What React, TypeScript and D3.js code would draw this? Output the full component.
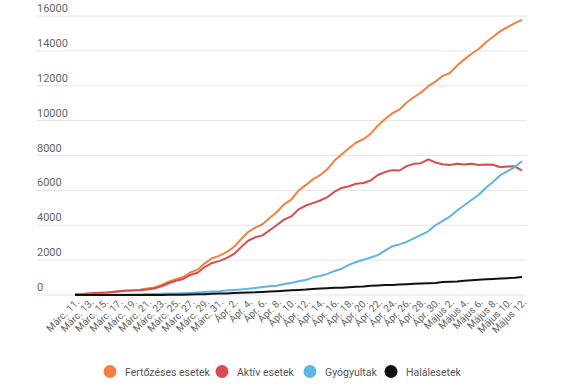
import React from 'react';
import * as d3 from 'd3';

// day labels, Márc. 11. – Május 12.
const months = [
  { name: 'Márc.', from: 11, to: 31 },
  { name: 'Ápr.', from: 1, to: 30 },
  { name: 'Május', from: 1, to: 12 },
];
const days: string[] = [];
months.forEach((m) => {
  for (let d = m.from; d <= m.to; d++) days.push(`${m.name} ${d}.`);
});

const cases = [
  49, 59, 89, 123, 131, 168, 217, 260, 277, 308,
  367, 433, 576, 762, 906, 1029, 1292, 1452, 1815, 2109,
  2245, 2460, 2738, 3183, 3613, 3864, 4057, 4417, 4761, 5202,
  5467, 5990, 6300, 6633, 6879, 7216, 7707, 8067, 8418, 8746,
  8936, 9242, 9710, 10096, 10417, 10635, 11036, 11339, 11616, 11978,
  12240, 12567, 12732, 13163, 13512, 13837, 14107, 14499, 14811, 15131,
  15362, 15588, 15778,
];
const active = [
  43, 53, 80, 114, 122, 159, 201, 241, 252, 277,
  315, 367, 500, 675, 816, 918, 1151, 1276, 1603, 1838,
  1943, 2116, 2340, 2732, 3111, 3307, 3421, 3715, 4013, 4325,
  4505, 4912, 5130, 5270, 5418, 5612, 5922, 6138, 6237, 6376,
  6425, 6565, 6880, 7050, 7160, 7140, 7390, 7520, 7560, 7780,
  7600, 7500, 7450, 7530, 7480, 7530, 7460, 7480, 7470, 7330,
  7370, 7380, 7130,
];
const recovered = [
  6, 6, 9, 9, 9, 9, 16, 19, 25, 31,
  52, 64, 73, 79, 79, 94, 115, 139, 169, 206,
  220, 252, 283, 318, 356, 406, 460, 505, 528, 629,
  692, 787, 855, 1012, 1089, 1212, 1374, 1508, 1730, 1892,
  2017, 2153, 2286, 2550, 2800, 2900, 3050, 3250, 3450, 3650,
  4000, 4250, 4500, 4850, 5150, 5450, 5750, 6150, 6500, 6880,
  7100, 7330, 7680,
];
const deaths = [
  0, 0, 0, 0, 0, 0, 0, 0, 0, 0,
  0, 2, 3, 8, 11, 17, 26, 37, 43, 65,
  82, 92, 115, 133, 146, 151, 176, 197, 220, 248,
  270, 291, 315, 351, 372, 392, 411, 421, 451, 478,
  494, 524, 545, 567, 575, 601, 619, 641, 663, 675,
  693, 744, 760, 778, 812, 846, 872, 900, 922, 944,
  967, 990, 1030,
];

const yTicks = [0, 2000, 4000, 6000, 8000, 10000, 12000, 14000, 16000];

const series = [
  { name: 'Fertőzéses esetek', values: cases, color: '#f4803f' },
  { name: 'Aktív esetek', values: active, color: '#d94b52' },
  { name: 'Gyógyultak', values: recovered, color: '#5cb5e2' },
  { name: 'Halálesetek', values: deaths, color: '#111111' },
];

const W = 575;
const H = 387;
const font = 'Roboto, "Noto Sans", sans-serif';

const App = () => {
  const x = d3.scalePoint<string>().domain(days).range([75, 522]);
  const y = d3.scaleLinear().domain([0, 16000]).range([295, 16]);

  const line = d3
    .line<number>()
    .x((d, i) => x(days[i]) as number)
    .y((d) => y(d));

  const legendX = [110, 222, 310, 391];

  return (
    <div style={{ position: 'absolute', left: 0, top: 0 }}>
      <svg width={W} height={H} style={{ display: 'block', background: '#fff' }}>
        {yTicks.map((t) => (
          <g key={t}>
            <line x1={37} x2={527} y1={y(t)} y2={y(t)} stroke="#e4e4e4" strokeWidth={1} />
            <text x={37} y={y(t) - 4} fontFamily={font} fontSize={11} fill="#666">
              {t}
            </text>
          </g>
        ))}

        {series.map((s) => (
          <path
            key={s.name}
            d={line(s.values) || ''}
            fill="none"
            stroke={s.color}
            strokeWidth={2}
            strokeLinejoin="round"
          />
        ))}

        {days.map((d, i) =>
          i % 2 === 0 ? (
            <text
              key={d}
              transform={`translate(${(x(d) as number) + 5},${303}) rotate(-45)`}
              textAnchor="end"
              fontFamily={font}
              fontSize={10}
              fill="#666"
            >
              {d}
            </text>
          ) : null
        )}

        {series.map((s, i) => (
          <g key={s.name} transform={`translate(${legendX[i]},${371.5})`}>
            <circle r={6.5} fill={s.color} />
            <text x={15} y={4} fontFamily={font} fontSize={10.5} fill="#555">
              {s.name}
            </text>
          </g>
        ))}
      </svg>
    </div>
  );
};

export default App;
